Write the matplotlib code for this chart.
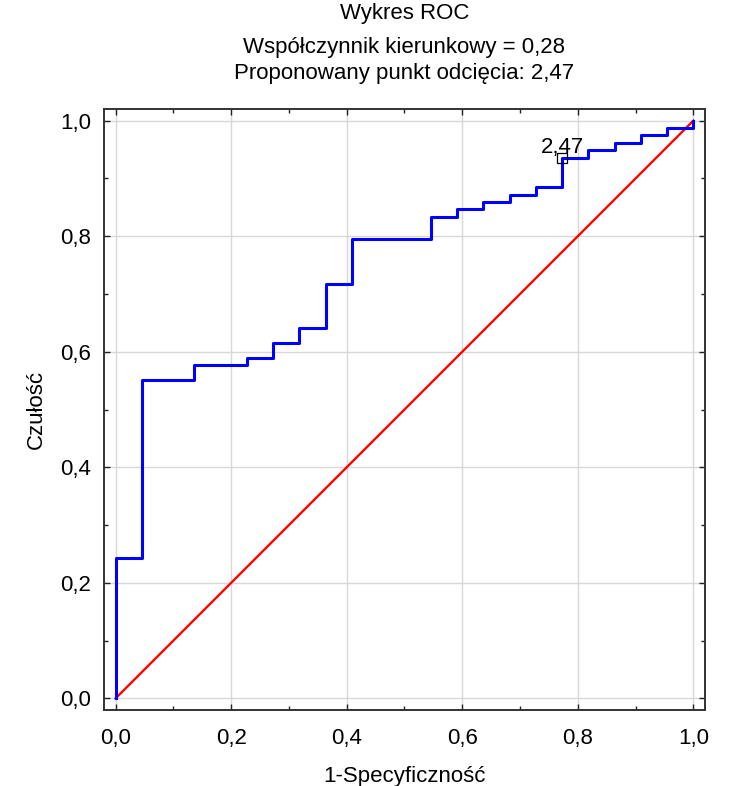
import matplotlib
matplotlib.use("Agg")
import matplotlib.pyplot as plt
from matplotlib.ticker import MultipleLocator, FuncFormatter

plt.rcParams['font.family'] = ['Liberation Sans', 'DejaVu Sans']

# krzywa ROC: 1-specyficznosc i czulosc w kolejnych progach
fpr = [0.0, 0.0, 0.0455, 0.0455, 0.1364, 0.1364, 0.2273, 0.2273, 0.2727, 0.2727,
       0.3182, 0.3182, 0.3636, 0.3636, 0.4091, 0.4091, 0.5455, 0.5455, 0.5909, 0.5909,
       0.6364, 0.6364, 0.6818, 0.6818, 0.7273, 0.7273, 0.7727, 0.7727, 0.8182, 0.8182,
       0.8636, 0.8636, 0.9091, 0.9091, 0.9545, 0.9545, 1.0, 1.0]
tpr = [0.0, 0.2436, 0.2436, 0.5513, 0.5513, 0.5769, 0.5769, 0.5897, 0.5897, 0.6154,
       0.6154, 0.6410, 0.6410, 0.7179, 0.7179, 0.7949, 0.7949, 0.8333, 0.8333, 0.8462,
       0.8462, 0.8590, 0.8590, 0.8718, 0.8718, 0.8846, 0.8846, 0.9359, 0.9359, 0.9487,
       0.9487, 0.9615, 0.9615, 0.9744, 0.9744, 0.9872, 0.9872, 1.0]

# punkt odciecia
cut_x = 0.7727
cut_y = 0.9359
cut_label = "2,47"

diag = [0.0, 1.0]

fig = plt.figure(figsize=(7.4, 7.86), dpi=100)
ax = fig.add_axes([0.1405, 0.0967, 0.8122, 0.7646])

ax.grid(True, color='#d8d8d8', linewidth=1.0)
ax.set_axisbelow(True)

ax.plot(diag, diag, color='#ff0000', linewidth=1.7, zorder=3)
ax.plot(fpr, tpr, color='#0000ff', linewidth=2.2, zorder=4)
ax.plot([cut_x], [cut_y], marker='s', markersize=7, markerfacecolor='none',
        markeredgecolor='black', markeredgewidth=0.9, zorder=5)
ax.annotate(cut_label, (cut_x, cut_y), xytext=(0, 3), textcoords='offset points',
            ha='center', va='baseline', fontsize=16, zorder=6)

ax.set_xlim(-0.02, 1.02)
ax.set_ylim(-0.02, 1.02)
ax.xaxis.set_major_locator(MultipleLocator(0.2))
ax.yaxis.set_major_locator(MultipleLocator(0.2))
ax.xaxis.set_minor_locator(MultipleLocator(0.1))
ax.yaxis.set_minor_locator(MultipleLocator(0.1))
fmt = FuncFormatter(lambda v, p: f"{v:.1f}".replace('.', ','))
ax.xaxis.set_major_formatter(fmt)
ax.yaxis.set_major_formatter(fmt)

ax.tick_params(which='both', direction='in', top=True, right=True,
               color='#222222', width=1.0)
ax.tick_params(which='major', length=4, labelsize=16)
ax.tick_params(axis='x', which='major', pad=13)
ax.tick_params(axis='y', which='major', pad=9)
ax.tick_params(which='minor', length=3)

for s in ax.spines.values():
    s.set_color('#333333')
    s.set_linewidth(1.4)

ax.set_xlabel("1-Specyficzność", fontsize=16, labelpad=12)
ax.set_ylabel("Czułość", fontsize=16, labelpad=10)

fig.text(0.5466, 1 - 13 / 786, "Wykres ROC", ha='center', va='center', fontsize=16)
fig.text(0.5466, 1 - 47 / 786, "Współczynnik kierunkowy = 0,28", ha='center', va='center', fontsize=16)
fig.text(0.5466, 1 - 74 / 786, "Proponowany punkt odcięcia: 2,47", ha='center', va='center', fontsize=16)

fig.savefig("out.png", dpi=100)
